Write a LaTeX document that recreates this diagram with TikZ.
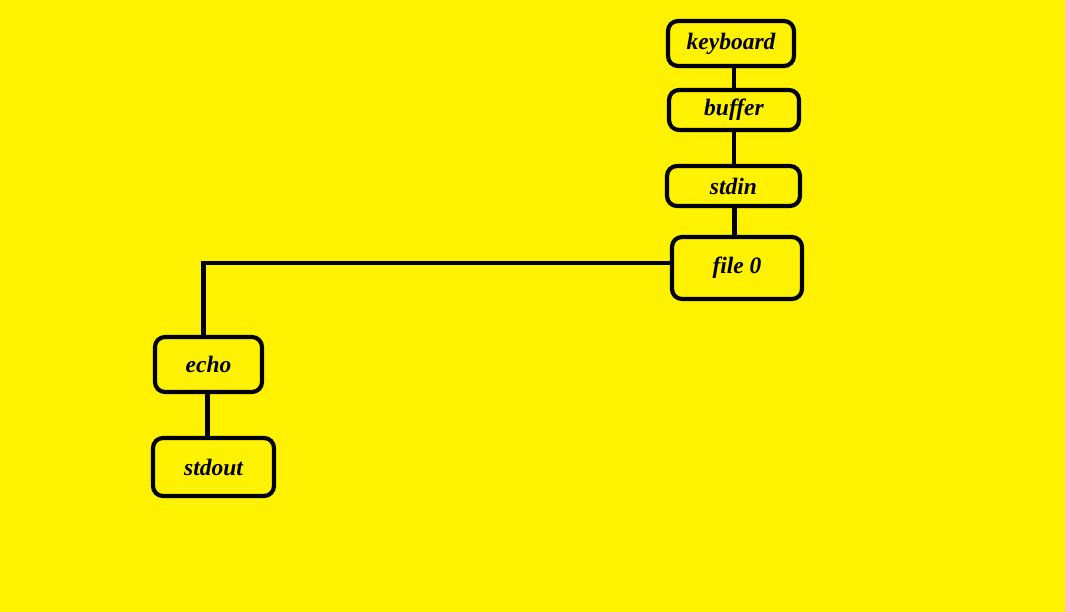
\documentclass[tikz,border=0pt]{standalone}
\usepackage{fontspec}
\setmainfont{Liberation Serif}
\usetikzlibrary{positioning}
\definecolor{bgyellow}{RGB}{255,242,0}
\tikzset{
  box/.style={draw,rounded corners=10pt,inner sep=0pt,
    font=\bfseries\itshape\fontsize{23.5}{27}\selectfont},
}
\begin{document}
\begin{tikzpicture}[x=1pt,y=-1pt,line width=4.2pt]
    \fill[bgyellow](0,0) rectangle (1065,612);
    \useasboundingbox (0,0) rectangle (1065,612);
    % upper column
    \node[box,minimum width=126pt,minimum height=45pt] (kbd) at (731,43.5) {keyboard};
    \node[box,minimum width=130pt,minimum height=40pt] (buf) at (734,110) {buffer};
    \node[box,minimum width=133pt,minimum height=40pt] (stdin) at (733.5,186) {stdin};
    \node[box,minimum width=130pt,minimum height=62pt] (file0) at (737,268) {file 0};
    % lower column
    \node[box,minimum width=107pt,minimum height=55pt] (echo) at (208.5,364.5) {echo};
    \node[box,minimum width=121pt,minimum height=58pt] (stdout) at (213.5,467) {stdout};
    \draw([xshift=3pt]kbd.south)--([xshift=3pt]kbd.south|-buf.north);
    \draw(buf.south)--(buf.south|-stdin.north);
    \draw([xshift=1pt]stdin.south)--([xshift=1pt]stdin.south|-file0.north);
    \draw([yshift=5pt]file0.west)-|([xshift=-5pt]echo.north);
    \draw([xshift=-1pt]echo.south)--([xshift=-1pt]echo.south|-stdout.north);
\end{tikzpicture}
\end{document}
